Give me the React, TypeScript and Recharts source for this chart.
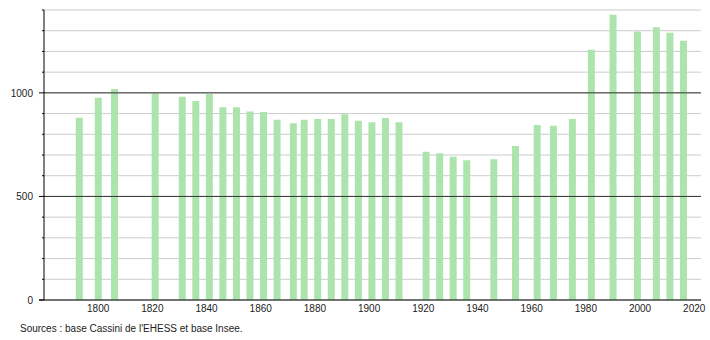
import { BarChart, Bar, XAxis, YAxis, CartesianGrid, ReferenceLine } from 'recharts'

const years = [
  1793, 1800, 1806, 1821, 1831, 1836, 1841, 1846, 1851, 1856, 1861, 1866, 1872, 1876, 1881, 1886, 1891, 1896,
  1901, 1906, 1911, 1921, 1926, 1931, 1936, 1946, 1954, 1962, 1968, 1975, 1982, 1990, 1999, 2006, 2011, 2016,
]
const population = [
  880, 976, 1019, 998, 981, 961, 994, 931, 931, 910, 907, 870, 853, 870, 874, 874, 897, 865,
  858, 879, 858, 716, 708, 692, 675, 680, 744, 845, 841, 874, 1208, 1377, 1296, 1317, 1290, 1251,
]
const xTicks = [1800, 1820, 1840, 1860, 1880, 1900, 1920, 1940, 1960, 1980, 2000, 2020]
const yTicks = [0, 100, 200, 300, 400, 500, 600, 700, 800, 900, 1000, 1100, 1200, 1300, 1400]
const majorTicks = [500, 1000]

const data = years.map((year, i) => ({ year, population: population[i] }))

const font = '"Liberation Sans", Arial, sans-serif'

function YTick(props: any) {
  const { x, y, payload } = props
  const v = payload.value
  const labelled = v % 500 === 0
  return (
    <g>
      <line x1={x - (labelled ? 5 : 2)} x2={x} y1={y} y2={y} stroke="#000" strokeWidth={1} />
      {v === 0 && <line x1={x - 5} x2={x} y1={y} y2={y} stroke="#000" strokeWidth={1} />}
      {labelled && (
        <text x={x - 11} y={y} dy={4} textAnchor="end" fontSize={10} fill="#222" fontFamily={font}>
          {v}
        </text>
      )}
    </g>
  )
}

export default function App() {
  return (
    <div style={{ width: 710, height: 340, position: 'relative', background: '#fff' }}>
      <style>{`body{margin:0}`}</style>
      <BarChart width={710} height={340} data={data} margin={{ top: 10, right: 9, left: 0, bottom: 20 }}>
        <CartesianGrid vertical={false} stroke="#cccccc" horizontalValues={yTicks} />
        {majorTicks.map((t) => (
          <ReferenceLine key={t} y={t} stroke="#333" strokeWidth={1} />
        ))}
        <XAxis
          dataKey="year"
          type="number"
          domain={[1780, 2022.5]}
          ticks={xTicks}
          allowDataOverflow
          tickLine={false}
          tickSize={0}
          tickMargin={5}
          stroke="#000"
          tick={{ fontSize: 10, fill: '#222', fontFamily: font }}
          height={20}
        />
        <YAxis
          type="number"
          domain={[0, 1400]}
          ticks={yTicks}
          interval={0}
          width={44}
          tickSize={0}
          tickMargin={0}
          tickLine={false}
          stroke="#000"
          tick={<YTick />}
        />
        <Bar dataKey="population" fill="#ade4ad" barSize={7} isAnimationActive={false} />
      </BarChart>
      <div
        style={{
          position: 'absolute',
          left: 20,
          top: 323,
          fontSize: 10,
          fontFamily: font,
          color: '#222',
        }}
      >
        Sources : base Cassini de l'EHESS et base Insee.
      </div>
    </div>
  )
}
